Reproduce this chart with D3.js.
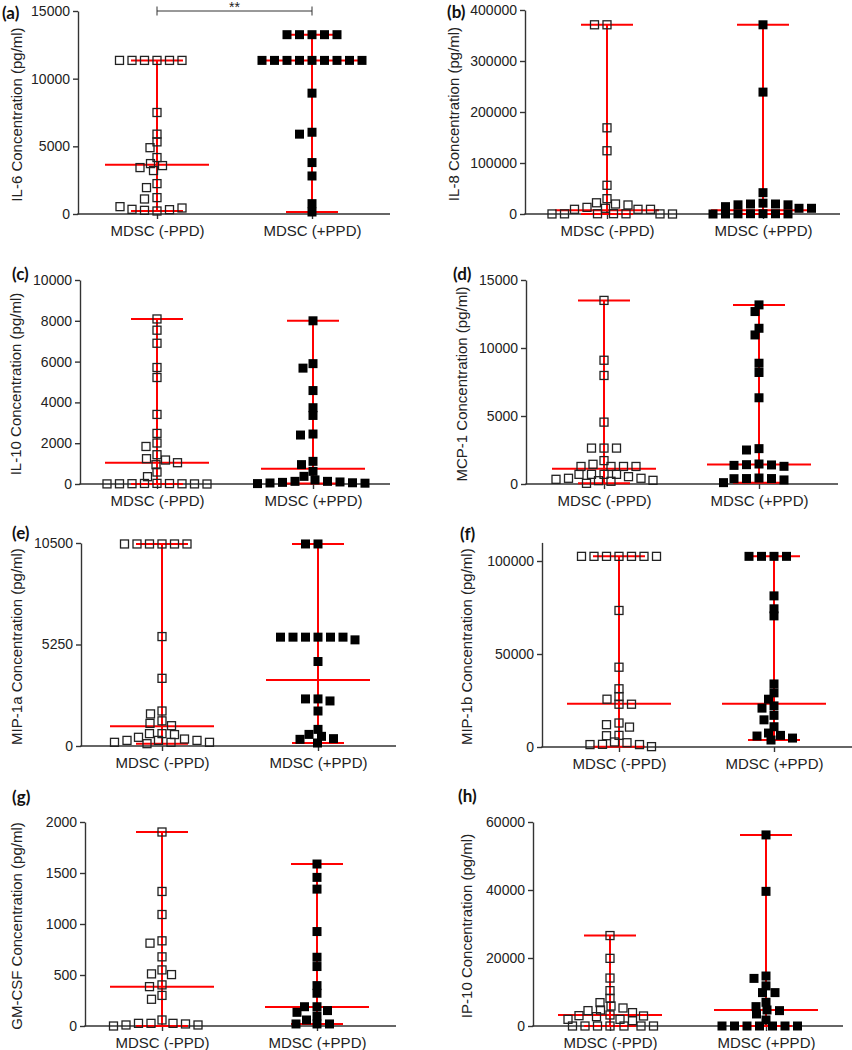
<!DOCTYPE html>
<html><head><meta charset="utf-8">
<script src="https://cdn.jsdelivr.net/npm/d3@7"></script>
<style>body{margin:0;background:#fff}svg{display:block}</style>
</head><body><svg id="chart" width="852" height="1050"></svg>
<script>
// ---------- DATA ----------
const groups = ["MDSC (-PPD)", "MDSC (+PPD)"];

const il6Neg = [11350,11350,11350,11350,11350,11350,7500,5900,5330,4900,4170,3725,3577,3430,3210,2245,1950,1210,1110,222,271,320,345,444,543];
const il6Pos = [13250,13250,13250,13250,13250,11350,11350,11350,11350,11350,11350,11350,11350,11350,8930,6040,5900,3800,2810,148,765];
const il6Median = [3630, 11350];
const il6Ticks = [0,5000,10000,15000];

const il8Neg = [371000,371000,169000,124000,56300,30000,22000,19600,17700,13000,11200,9200,9200,9200,600,500,400,300,200,100,0];
const il8Pos = [371000,239000,41800,21200,19600,19600,18000,18000,14400,11200,11200,600,500,400,300,200,100,0];
const il8Median = [7200, 7200];
const il8Ticks = [0,100000,200000,300000,400000];

const il10Neg = [8090,7540,6900,5710,5220,3410,2480,2010,1840,1435,1240,1175,1044,946,587,359,30,25,20,15,10,10,5,5,0];
const il10Pos = [8000,5900,5680,4580,3740,3360,2450,2400,1110,950,620,375,200,130,130,100,80,60,50,40,20];
const il10Median = [1044, 750];
const il10Ticks = [0,2000,4000,6000,8000,10000];

const mcp1Neg = [13500,9100,7980,4550,2640,2640,2640,1720,1450,1290,1290,1290,1290,710,710,710,710,540,420,420,345,270,245,200,50];
const mcp1Pos = [13170,12680,11450,10960,8880,8200,6340,2600,2500,1470,1420,1400,1370,1300,440,400,400,390,300,100];
const mcp1Median = [1130, 1440];
const mcp1Ticks = [0,5000,10000,15000];

const mip1aNeg = [10450,10450,10450,10450,10450,10450,5660,3500,1810,1660,1300,1170,1050,640,640,590,450,360,290,290,290,190,190,190,120];
const mip1aPos = [10450,10450,5630,5630,5630,5630,5630,5630,5490,4370,2435,2435,2330,1810,860,600,500,380,345,155];
const mip1aMedian = [1020, 3420];
const mip1aTicks = [0,5250,10500];

const mip1bNeg = [102500,102500,102500,102500,102500,102500,102500,73400,42900,31300,27100,25700,23000,23000,12900,12000,10700,6250,6070,2700,2300,1430,1300,1300,200];
const mip1bPos = [102500,102500,102500,102500,81250,74300,70500,33900,29100,25700,22100,20900,17000,14600,10900,7500,6250,5900,4800,3750];
const mip1bMedian = [23200, 23200];
const mip1bTicks = [0,50000,100000];

const gmcsfNeg = [1902,1319,1093,835,812,678,550,511,504,403,386,300,262,59,26,26,26,20,10,10,0];
const gmcsfPos = [1588,1457,1342,926,674,583,396,321,189,189,151,134,98,59,20,20,20];
const gmcsfMedian = [386, 187];
const gmcsfTicks = [0,500,1000,1500,2000];

const ip10Neg = [26600,19900,14100,10400,8150,6870,5890,5300,4710,4520,3930,3240,3040,2950,2750,1960,1960,1570,0,0,0,0,0,0,0];
const ip10Pos = [56200,39600,14700,14000,11800,9820,9820,6970,5700,4710,4520,3540,1770,0,0,0,0,0,0,0];
const ip10Median = [3240, 4710];
const ip10Ticks = [0,20000,40000,60000];

// ---------- LAYOUT ----------
const panels = [
  {lab:"(a)", title:"IL-6 Concentration (pg/ml)", neg:il6Neg, pos:il6Pos, med:il6Median, ticks:il6Ticks, max:15000,
   ax:78, yTop:11, y0:214, xEnd:390, c:[157,312], labX:2, labY:19, titleX:22, sig:true},
  {lab:"(b)", title:"IL-8 Concentration (pg/ml)", neg:il8Neg, pos:il8Pos, med:il8Median, ticks:il8Ticks, max:400000,
   ax:525, yTop:10, y0:214, xEnd:840, c:[607,763], labX:447, labY:18, titleX:459},
  {lab:"(c)", title:"IL-10 Concentration (pg/ml)", neg:il10Neg, pos:il10Pos, med:il10Median, ticks:il10Ticks, max:10000,
   ax:80, yTop:280, y0:484, xEnd:390, c:[157,313], labX:12, labY:280, titleX:21},
  {lab:"(d)", title:"MCP-1 Concentration (pg/ml)", neg:mcp1Neg, pos:mcp1Pos, med:mcp1Median, ticks:mcp1Ticks, max:15000,
   ax:526, yTop:280, y0:484, xEnd:838, c:[604,759], labX:453, labY:280, titleX:467},
  {lab:"(e)", title:"MIP-1a Concentration (pg/ml)", neg:mip1aNeg, pos:mip1aPos, med:mip1aMedian, ticks:mip1aTicks, max:10500,
   ax:81, yTop:543, y0:746, xEnd:396, c:[162,318], labX:12, labY:539, titleX:22},
  {lab:"(f)", title:"MIP-1b Concentration (pg/ml)", neg:mip1bNeg, pos:mip1bPos, med:mip1bMedian, ticks:mip1bTicks, max:110000,
   ax:542, yTop:542.4, y0:747, xEnd:852, c:[619,774], labX:460, labY:540, titleX:472},
  {lab:"(g)", title:"GM-CSF Concentration (pg/ml)", neg:gmcsfNeg, pos:gmcsfPos, med:gmcsfMedian, ticks:gmcsfTicks, max:2000,
   ax:85, yTop:822, y0:1026, xEnd:396, c:[162,317], labX:12, labY:803, titleX:22},
  {lab:"(h)", title:"IP-10 Concentration (pg/ml)", neg:ip10Neg, pos:ip10Pos, med:ip10Median, ticks:ip10Ticks, max:60000,
   ax:533, yTop:822, y0:1026, xEnd:843, c:[610,766], labX:458, labY:802, titleX:472}
];

const FONT = "'Liberation Sans', Arial, sans-serif";
const AXIS = "#333";
const RED = "#ff0000";
const svg = d3.select("#chart");

// beeswarm placement (elliptical collision metric)
function swarm(values, y, cx) {
  const RX = 12.5, RY = 7, STEP = 0.5;
  const placed = [];
  return values.map(v => {
    const py = y(v);
    let px = cx;
    for (let k = 0; k < 2000; k++) {
      const off = (k === 0) ? 0 : (k % 2 === 1 ? -1 : 1) * Math.ceil(k / 2) * STEP;
      const tx = cx + off;
      const ok = placed.every(p => {
        const dx = (p.x - tx) / RX, dy = (p.y - py) / RY;
        return dx * dx + dy * dy >= 1;
      });
      if (ok) { px = tx; break; }
    }
    const pt = {x: px, y: py, v};
    placed.push(pt);
    return pt;
  });
}

panels.forEach(p => {
  const y = d3.scaleLinear().domain([0, p.max]).range([p.y0, p.yTop]);
  const x = d3.scalePoint().domain(groups).range(p.c);
  const g = svg.append("g");

  // y axis
  const ya = g.append("g").attr("transform", `translate(${p.ax},0)`)
    .call(d3.axisLeft(y).tickValues(p.ticks).tickFormat(d3.format("d")).tickSize(5).tickSizeOuter(0).tickPadding(3));
  ya.select(".domain").attr("stroke", AXIS).attr("stroke-width", 1.4);
  ya.selectAll(".tick line").attr("stroke", AXIS).attr("stroke-width", 1.4);
  ya.selectAll(".tick text").attr("fill", "#222").style("font-family", FONT).style("font-size", "14px");

  // x axis
  const xa = g.append("g").attr("transform", `translate(0,${p.y0})`)
    .call(d3.axisBottom(x).tickSize(5).tickSizeOuter(0).tickPadding(6));
  xa.select(".domain").remove();
  xa.selectAll(".tick line").attr("stroke", AXIS).attr("stroke-width", 1.4);
  xa.selectAll(".tick text").attr("fill", "#222").style("font-family", FONT).style("font-size", "15px");
  xa.append("line").attr("x1", p.ax - 0.7).attr("x2", p.xEnd).attr("y1", 0).attr("y2", 0)
    .attr("stroke", AXIS).attr("stroke-width", 1.4);

  // panel label
  g.append("text").attr("x", p.labX).attr("y", p.labY).text(p.lab)
    .style("font-family", "Lato, 'Open Sans', sans-serif").style("font-weight", "bold").style("font-size", "17px").attr("fill", "#111");

  // y title
  g.append("text").attr("transform", `translate(${p.titleX},${(p.y0 + p.yTop) / 2 + 2}) rotate(-90)`)
    .attr("text-anchor", "middle").text(p.title)
    .style("font-family", FONT).style("font-size", "15px").attr("fill", "#222");

  // median + range (red)
  [p.neg, p.pos].forEach((vals, i) => {
    const cx = x(groups[i]);
    const [mn, mx] = d3.extent(vals);
    const lg = g.append("g").attr("stroke", RED).attr("stroke-width", 2).attr("fill", "none");
    lg.append("line").attr("x1", cx).attr("x2", cx).attr("y1", y(mn)).attr("y2", y(mx));
    lg.append("line").attr("x1", cx - 26).attr("x2", cx + 26).attr("y1", y(mx)).attr("y2", y(mx));
    lg.append("line").attr("x1", cx - 26).attr("x2", cx + 26).attr("y1", y(mn)).attr("y2", y(mn));
    lg.append("line").attr("x1", cx - 52).attr("x2", cx + 52).attr("y1", y(p.med[i])).attr("y2", y(p.med[i]));
  });

  // points
  const negPts = swarm(p.neg, y, x(groups[0]));
  g.append("g").selectAll("rect").data(negPts).join("rect")
    .attr("x", d => d.x - 4).attr("y", d => d.y - 4).attr("width", 8).attr("height", 8)
    .attr("fill", "none").attr("stroke", "#222").attr("stroke-width", 1.3);
  const posPts = swarm(p.pos, y, x(groups[1]));
  g.append("g").selectAll("rect").data(posPts).join("rect")
    .attr("x", d => d.x - 4.5).attr("y", d => d.y - 4.5).attr("width", 9).attr("height", 9)
    .attr("fill", "#000");

  // significance bracket
  if (p.sig) {
    const x1 = x(groups[0]), x2 = x(groups[1]), by = y(p.max);
    g.append("path").attr("d", `M${x1},${by - 4.5}V${by + 4.5}M${x1},${by}H${x2}M${x2},${by - 4.5}V${by + 4.5}`)
      .attr("stroke", AXIS).attr("stroke-width", 1).attr("fill", "none");
    g.append("text").attr("x", (x1 + x2) / 2).attr("y", by + 1).attr("text-anchor", "middle").text("**")
      .style("font-family", FONT).style("font-size", "14px").attr("fill", "#222");
  }
});
</script>
</body></html>
